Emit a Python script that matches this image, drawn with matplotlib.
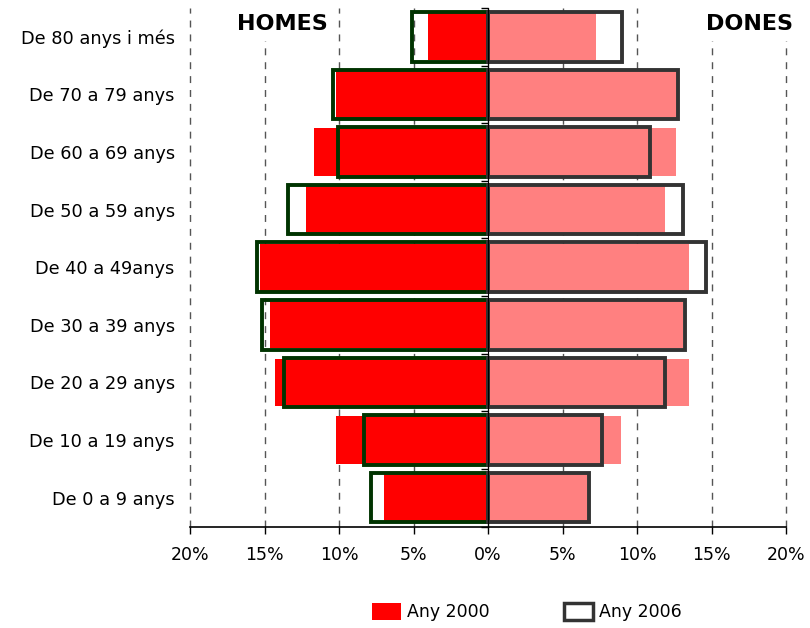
"""
Piràmide de població: Any 2000 vs Any 2006
"""
import numpy as np
import matplotlib
matplotlib.use("Agg")
import matplotlib.pyplot as plt
from matplotlib.patches import Patch

# Dades (% de població), de baix a dalt
categories = [
    "De 0 a 9 anys",
    "De 10 a 19 anys",
    "De 20 a 29 anys",
    "De 30 a 39 anys",
    "De 40 a 49anys",
    "De 50 a 59 anys",
    "De 60 a 69 anys",
    "De 70 a 79 anys",
    "De 80 anys i més",
]
homes_2000 = [7.0, 10.2, 14.3, 14.6, 15.3, 12.2, 11.7, 10.2, 4.0]
homes_2006 = [7.85, 8.3, 13.7, 15.2, 15.5, 13.4, 10.1, 10.4, 5.1]
dones_2000 = [6.7, 8.9, 13.5, 13.1, 13.5, 11.9, 12.6, 12.7, 7.25]
dones_2006 = [6.8, 7.65, 11.9, 13.2, 14.6, 13.1, 10.9, 12.75, 9.0]
xticks = [-20, -15, -10, -5, 0, 5, 10, 15, 20]

plt.rcParams['font.family'] = ['DejaVu Sans']

fig = plt.figure(figsize=(8.1, 6.28), dpi=100)
ax = fig.add_axes([190 / 810, 1 - 526.5 / 628, 596 / 810, 518.5 / 628])

y = np.arange(len(categories))

# Any 2000 (ple)
ax.barh(y, -np.array(homes_2000), height=0.82, color="#FF0000", zorder=2)
ax.barh(y, dones_2000, height=0.82, color="#FF8080", zorder=2)

# Any 2006 (només contorn)
ax.barh(y, -np.array(homes_2006), height=0.86, facecolor="none",
        edgecolor="#003300", linewidth=2.8, zorder=3)
ax.barh(y, dones_2006, height=0.86, facecolor="none",
        edgecolor="#333333", linewidth=2.8, zorder=3)

ax.set_xlim(-20, 20)
ax.set_ylim(-0.5, len(categories) - 0.5)

ax.set_xticks(xticks)
ax.set_xticklabels([f"{abs(v)}%" for v in xticks])
ax.set_yticks(y)
ax.set_yticklabels(categories)
ax.tick_params(axis="y", length=0, pad=11, labelsize=12.8)
ax.tick_params(axis="x", direction="out", length=5, width=1, pad=9,
               labelsize=12.5, color="black")

for s in ["top", "right", "left"]:
    ax.spines[s].set_visible(False)
ax.spines["bottom"].set_linewidth(1.2)

ax.xaxis.grid(True, linestyle=(0, (5, 5)), color="#555555", linewidth=1)
ax.set_axisbelow(True)
for gl in ax.get_xgridlines():
    gl.set_clip_on(False)

# eix central a 0 amb marques entre categories
sec = ax.secondary_yaxis(0.5)
sec.set_zorder(6)
sec.set_yticks(np.arange(len(categories) + 1) - 0.5)
sec.set_yticklabels([])
sec.tick_params(axis="y", direction="in", length=5, width=1, color="black")
sec.spines["left"].set_linewidth(1.5)
sec.spines["left"].set_color("black")

bbox = dict(facecolor="white", edgecolor="none", pad=5)
ax.text(282 / 810, 1 - 24.5 / 628, "HOMES", transform=fig.transFigure,
        ha="center", va="center", fontsize=16, fontweight="bold",
        bbox=bbox, zorder=5)
ax.text(750 / 810, 1 - 24.5 / 628, "DONES", transform=fig.transFigure,
        ha="center", va="center", fontsize=16, fontweight="bold",
        bbox=bbox, zorder=5)

handles = [
    Patch(facecolor="#FF0000", edgecolor="none", label="Any 2000"),
    Patch(facecolor="white", edgecolor="#333333", linewidth=2.5, label="Any 2006"),
]
fig.legend(handles=handles, loc="center", bbox_to_anchor=(527 / 810, 1 - 612 / 628),
           ncol=2, frameon=False, fontsize=12.5, handlelength=1.67,
           handleheight=1.2, handletextpad=0.35, columnspacing=4.3)

fig.savefig("out.png", dpi=100)
